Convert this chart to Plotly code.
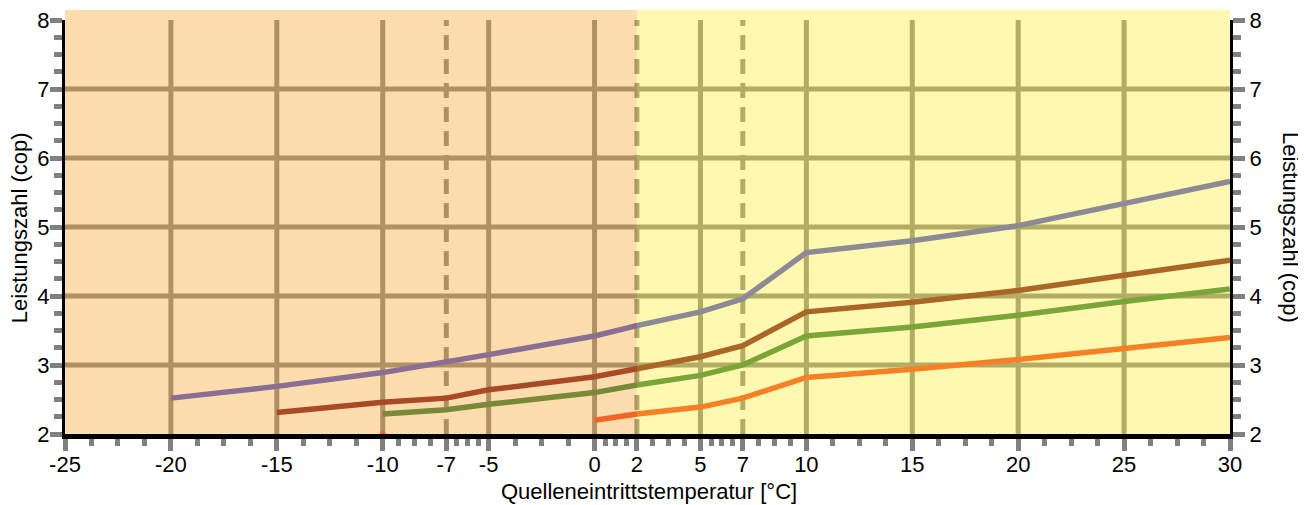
import plotly.graph_objects as go

# ---- data ----
x_blue = [-20, -15, -10, -7, -5, 0, 2, 5, 7, 10, 15, 20, 25, 30]
y_blue = [2.52, 2.69, 2.89, 3.04, 3.15, 3.42, 3.57, 3.77, 3.96, 4.63, 4.80, 5.02, 5.33, 5.66]

x_red = [-15, -10, -7, -5, 0, 2, 5, 7, 10, 15, 20, 25, 30]
y_red = [2.31, 2.46, 2.52, 2.64, 2.83, 2.95, 3.12, 3.28, 3.77, 3.91, 4.08, 4.30, 4.52]

x_green = [-10, -7, -5, 0, 2, 5, 7, 10, 15, 20, 25, 30]
y_green = [2.29, 2.35, 2.43, 2.60, 2.71, 2.85, 3.00, 3.42, 3.55, 3.72, 3.92, 4.10]

x_orange = [0, 2, 5, 7, 10, 15, 20, 25, 30]
y_orange = [2.20, 2.29, 2.39, 2.52, 2.82, 2.94, 3.08, 3.23, 3.40]

x_marker = [-10]
y_marker = [2.0]

x_ticks = [-25, -20, -15, -10, -7, -5, 0, 2, 5, 7, 10, 15, 20, 25, 30]
x_ticktext = ["-25", "-20", "-15", "-10", "-7", "-5", "0", "2", "5", "7", "10", "15", "20", "25", "30"]
y_ticks = [2, 3, 4, 5, 6, 7, 8]
x_dashed = [-7, 2, 7]
y_grid = [3, 4, 5, 6, 7]
x_split = 2

x_title = "Quelleneintrittstemperatur [°C]"
y_title = "Leistungszahl (cop)"

XMIN, XMAX = -25, 30
YMIN, YMAX = 2, 8

# minor ticks: 3 between consecutive major ticks
x_minor = []
for a, b in zip(x_ticks[:-1], x_ticks[1:]):
    for k in (1, 2, 3):
        x_minor.append(a + (b - a) * k / 4)
y_minor = []
for a, b in zip(y_ticks[:-1], y_ticks[1:]):
    for k in (1, 2, 3):
        y_minor.append(a + (b - a) * k / 4)

FONT = "Liberation Sans, Arial, sans-serif"
FS = 22
GRAY = "rgb(128,128,128)"

fig = go.Figure()

series = [
    (x_blue, y_blue, "rgb(64,72,210)"),
    (x_red, y_red, "rgb(112,12,28)"),
    (x_green, y_green, "rgb(34,118,57)"),
    (x_orange, y_orange, "rgb(238,58,25)"),
]
for xs, ys, c in series:
    fig.add_trace(go.Scatter(x=xs, y=ys, mode="lines", line=dict(color=c, width=5.5),
                             showlegend=False, hoverinfo="skip"))

fig.add_trace(go.Scatter(x=x_marker, y=y_marker, mode="markers",
                         marker=dict(symbol="triangle-up", size=9, color="rgb(238,58,25)"),
                         showlegend=False, hoverinfo="skip"))

shapes = []
for xv in x_ticks:
    if xv in (XMIN, XMAX):
        continue
    dash = "15px,9px" if xv in x_dashed else "solid"
    shapes.append(dict(type="line", xref="x", yref="y", x0=xv, x1=xv, y0=YMIN, y1=YMAX,
                       line=dict(color=GRAY, width=5, dash=dash), layer="below"))
for yv in y_grid:
    shapes.append(dict(type="line", xref="x", yref="y", x0=XMIN, x1=XMAX, y0=yv, y1=yv,
                       line=dict(color=GRAY, width=5), layer="below"))

xs_paper = (x_split - XMIN) / (XMAX - XMIN)
shapes.append(dict(type="rect", xref="paper", yref="paper", x0=0, x1=xs_paper, y0=0, y1=1.024,
                   fillcolor="rgba(250,167,52,0.4)", line=dict(width=0), layer="above"))
shapes.append(dict(type="rect", xref="paper", yref="paper", x0=xs_paper, x1=1, y0=0, y1=1.024,
                   fillcolor="rgba(255,237,57,0.4)", line=dict(width=0), layer="above"))

yax = dict(range=[YMIN, YMAX], tickmode="array", tickvals=y_ticks,
           ticktext=[str(v) for v in y_ticks], ticklabeloverflow="allow", automargin=False,
           showgrid=False, zeroline=False, showline=True, linecolor="black", linewidth=3,
           ticks="outside", ticklen=12, tickwidth=5, tickcolor=GRAY,
           tickfont=dict(family=FONT, size=FS),
           minor=dict(tickmode="array", tickvals=y_minor, ticks="outside", ticklen=8, tickwidth=5,
                      tickcolor=GRAY, showgrid=False))

fig.update_layout(
    width=1298, height=497,
    margin=dict(l=57, r=76, t=12, b=71, autoexpand=False),
    paper_bgcolor="white", plot_bgcolor="white",
    font=dict(family=FONT, size=FS, color="black"),
    shapes=shapes,
    xaxis=dict(range=[XMIN, XMAX], tickmode="array", tickvals=x_ticks, ticktext=x_ticktext,
               ticklabeloverflow="allow", ticklabelstandoff=-5, automargin=False,
               showgrid=False, zeroline=False, showline=True, linecolor="black", linewidth=5,
               ticks="outside", ticklen=12, tickwidth=5, tickcolor=GRAY,
               tickfont=dict(family=FONT, size=FS),
               minor=dict(tickmode="array", tickvals=x_minor, ticks="outside", ticklen=7,
                          tickwidth=5, tickcolor=GRAY, showgrid=False)),
    yaxis=dict(yax, ticklabelstandoff=-4),
    yaxis2=dict(yax, overlaying="y", side="right"),
    annotations=[
        dict(text=x_title, xref="paper", yref="paper", x=0.501, y=-0.140,
             xanchor="center", yanchor="middle", showarrow=False,
             font=dict(family=FONT, size=FS, color="black")),
        dict(text=y_title, xref="paper", yref="paper", x=-0.0385, y=0.4976,
             xanchor="center", yanchor="middle", textangle=-90, showarrow=False,
             font=dict(family=FONT, size=FS, color="black")),
        dict(text=y_title, xref="paper", yref="paper", x=1.0515, y=0.4976,
             xanchor="center", yanchor="middle", textangle=90, showarrow=False,
             font=dict(family=FONT, size=FS, color="black")),
    ],
)
fig.add_trace(go.Scatter(x=[None], y=[None], yaxis="y2", showlegend=False, hoverinfo="skip"))

fig.write_html("out.html")
